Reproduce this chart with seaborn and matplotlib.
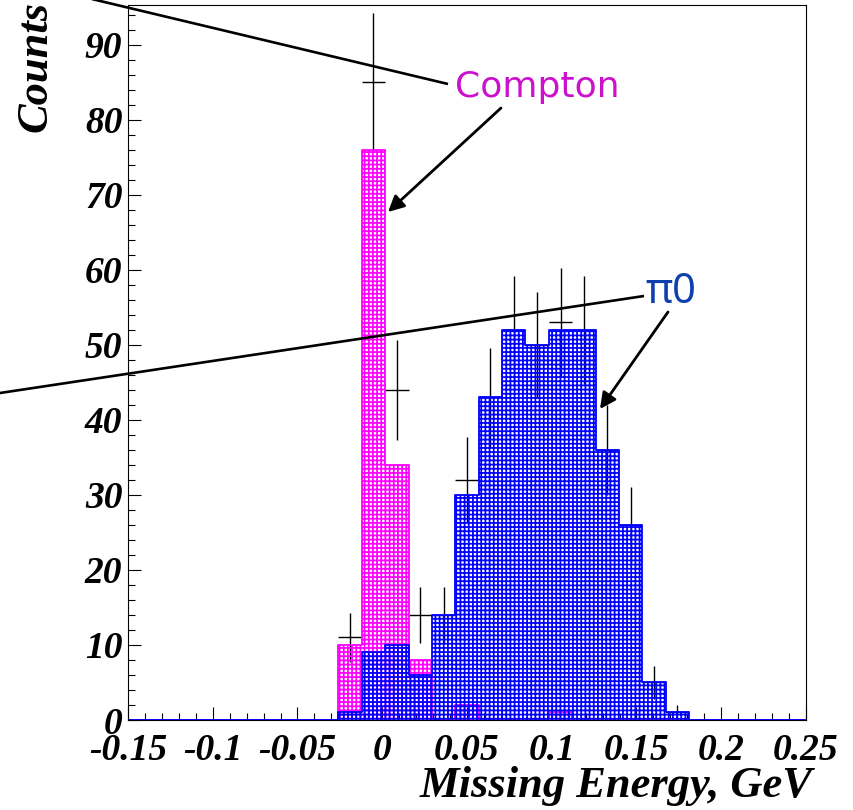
import numpy as np
import pandas as pd
import matplotlib
matplotlib.use("Agg")
import matplotlib.pyplot as plt
from matplotlib.lines import Line2D
import seaborn as sns

# Histogram binning (GeV)
e_lo, e_hi, n_bins = -0.15, 0.25, 29

# Simulated Compton events per bin
compton = [0, 0, 0, 0, 0, 0, 0, 0, 0, 10, 76, 34, 8, 0, 2, 0, 0, 0, 1, 0,
           0, 0, 0, 0, 0, 0, 0, 0, 0]
# Simulated pi0 events per bin
pi0 = [0, 0, 0, 0, 0, 0, 0, 0, 0, 1, 9, 10, 6, 14, 30, 43, 52, 50, 52, 52,
       36, 26, 5, 1, 0, 0, 0, 0, 0]
# Measured counts per bin
measured = [0, 0, 0, 0, 0, 0, 0, 0, 0, 11, 85, 44, 14, 14, 32, 43, 52, 50, 53, 52,
            36, 26, 5, 1, 0, 0, 0, 0, 0]

x_ticks = [-0.15, -0.1, -0.05, 0.0, 0.05, 0.1, 0.15, 0.2, 0.25]
x_tick_labels = ["-0.15", "-0.1", "-0.05", "0", "0.05", "0.1", "0.15", "0.2", "0.25"]
y_ticks = [0, 10, 20, 30, 40, 50, 60, 70, 80, 90]
y_tick_labels = ["0", "10", "20", "30", "40", "50", "60", "70", "80", "90"]

edges = np.linspace(e_lo, e_hi, n_bins + 1)
centers = 0.5 * (edges[:-1] + edges[1:])
width = edges[1] - edges[0]
df = pd.DataFrame({"energy": centers, "compton": compton, "pi0": pi0,
                   "measured": measured})

sns.set_style("white")
plt.rcParams.update({
    "hatch.linewidth": 1.25,
    "text.color": "black",
    "axes.labelcolor": "black",
    "xtick.color": "black",
    "ytick.color": "black",
})

W, H = 854, 810
fig = plt.figure(figsize=(W / 100, H / 100), dpi=100)
ax = fig.add_axes([128 / W, 90 / H, 678 / W, 715 / H])

MAGENTA = "#ff00ff"
BLUE = "#0000ff"
hist_kw = dict(data=df, x="energy", bins=n_bins, binrange=(e_lo, e_hi), ax=ax)

# measured points with statistical errors
sel = df["measured"] > 0
ax.errorbar(df.loc[sel, "energy"], df.loc[sel, "measured"],
            xerr=width / 2, yerr=np.sqrt(df.loc[sel, "measured"]),
            fmt="none", ecolor="black", elinewidth=1.0, capsize=0, zorder=0.9)

# Compton: hatched fill + outline, kept beneath the pi0 histogram
sns.histplot(weights="compton", element="bars", fill=False, color=MAGENTA,
             hatch="++++", linewidth=0, **hist_kw)
n_before = len(ax.lines)
sns.histplot(weights="compton", element="step", fill=False, color=MAGENTA,
             linewidth=1.3, **hist_kw)
for ln in ax.lines[n_before:]:
    ln.set_zorder(0.95)

# pi0 on top
sns.histplot(weights="pi0", element="bars", fill=False, color=BLUE,
             hatch="++++", linewidth=0, **hist_kw)
sns.histplot(weights="pi0", element="step", fill=False, color=BLUE,
             linewidth=1.3, **hist_kw)

ax.set_xlim(e_lo, e_hi)
ax.set_ylim(0, 95.3)

tick_font = dict(family="Liberation Serif", weight="bold", style="italic", size=27)
ax.set_xticks(x_ticks, x_tick_labels, fontdict=tick_font)
ax.set_yticks(y_ticks, y_tick_labels, fontdict=tick_font)
ax.set_xticks(np.arange(-0.15, 0.2501, 0.01), minor=True)
ax.set_yticks(np.arange(0, 95, 2), minor=True)
ax.tick_params(axis="both", which="both", direction="in", color="black", width=0.8,
               labelcolor="black", bottom=True, left=True, top=False, right=False)
ax.tick_params(axis="both", which="major", length=9.5)
ax.tick_params(axis="both", which="minor", length=5)
ax.tick_params(axis="x", which="major", pad=9)
ax.tick_params(axis="y", which="major", pad=4)

for s in ax.spines.values():
    s.set_color("black")
    s.set_linewidth(0.8)

label_font = dict(family="Liberation Serif", weight="bold", style="italic", size=32,
                  color="black")
ax.set_xlabel("Missing Energy, GeV", loc="right", fontdict=label_font)
ax.xaxis.label.set_va("center")
ax.xaxis.set_label_coords((812 - 128) / 678, (720 - 786) / 715)
ax.set_ylabel("Counts", loc="top", fontdict=label_font)
ax.yaxis.label.set_va("center")
ax.yaxis.label.set_ha("right")
ax.yaxis.set_label_coords((35 - 128) / 678, (720 - 1) / 715)


def fp(x, y):
    """pixel position (top-left origin) -> figure fraction"""
    return x / W, 1 - y / H


# pointer lines and labels
for (x0, y0), (x1, y1) in [((60, -8.6), (448, 84)), ((-10, 394.5), (644, 296))]:
    a, b = fp(x0, y0)
    c, d = fp(x1, y1)
    fig.add_artist(Line2D([a, c], [b, d], transform=fig.transFigure,
                          color="black", linewidth=1.9, solid_capstyle="butt"))

fig.text(*fp(537, 97), "Compton", color="#cc11cc", fontsize=26,
         family="DejaVu Sans", ha="center", va="baseline")
fig.text(*fp(671, 303), "π0", color="#1040b0", fontsize=30,
         family="Noto Sans", ha="center", va="baseline")

arrow = dict(arrowstyle="-|>", color="black", lw=2.0, mutation_scale=24,
             shrinkA=0, shrinkB=0)
ax.annotate("", xy=fp(388, 212), xytext=fp(501, 108), xycoords="figure fraction",
            textcoords="figure fraction", arrowprops=arrow)
ax.annotate("", xy=fp(600, 409), xytext=fp(668, 312), xycoords="figure fraction",
            textcoords="figure fraction", arrowprops=arrow)

fig.savefig("out.png", dpi=100)
